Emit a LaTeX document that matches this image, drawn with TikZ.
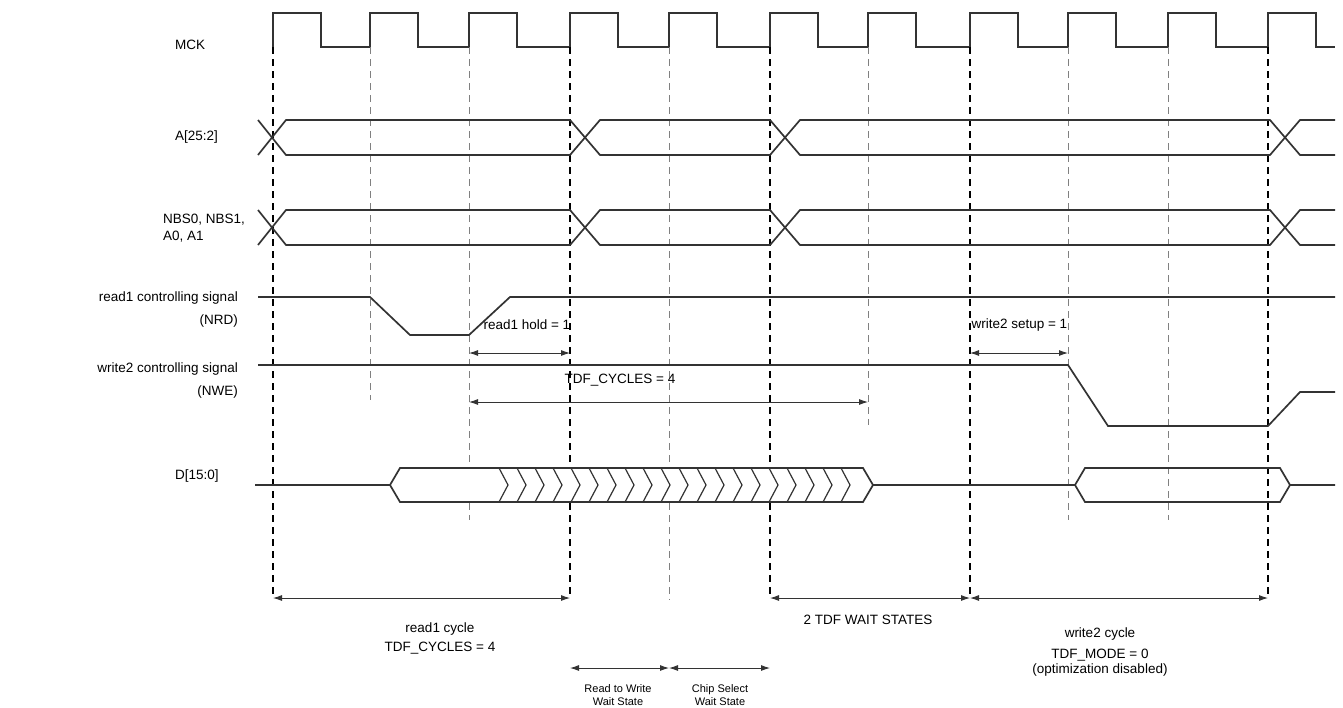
\documentclass[tikz,border=0pt]{standalone}
\usepackage{fontspec}
\setmainfont{Liberation Sans}
\usetikzlibrary{arrows.meta}

\begin{document}
\begin{tikzpicture}[
    x=1pt, y=-1pt,
    wave/.style={line width=1.7pt, black!80},
    major/.style={dashed, line width=1.6pt, dash pattern=on 7pt off 5pt},
    minor/.style={dashed, gray, line width=0.9pt, dash pattern=on 7pt off 5pt},
    dim/.style={{Latex[length=9pt,width=6pt]}-{Latex[length=9pt,width=6pt]}, line width=0.9pt, black!80},
    sig/.style={font=\fontsize{13.5}{15}\selectfont, inner sep=0pt},
    note/.style={font=\fontsize{13.5}{15}\selectfont, align=center},
    tiny/.style={font=\fontsize{11}{13}\selectfont, align=center, inner sep=1pt}
]
    \useasboundingbox (0,0) rectangle (1343,707);
    % rising edges of MCK
    \foreach \i/\x in {1/273,2/370,3/469,4/570,5/669,6/770,7/868,8/970,9/1068,10/1168,11/1268}
        \coordinate (e\i) at (\x,0);

    % signal names
    \node[sig, anchor=west] (mck) at (175,45) {MCK};
    \node[sig, anchor=west] (addr) at (175,137) {A[25:2]};
    \node[sig, anchor=west, align=left] (nbs) at (163,228) {NBS0, NBS1,\\[2pt]A0, A1};
    \node[sig, anchor=east, align=right] (nrd) at (238,310) {read1 controlling signal\\[8pt](NRD)};
    \node[sig, anchor=east, align=right] (nwe) at (238,380) {write2 controlling signal\\[8pt](NWE)};
    \node[sig, anchor=west] (data) at (175,476) {D[15:0]};

    % clock
    \draw[wave] (273,47) \foreach \x in {273,370,469,570,669,770,868,970,1068,1168,1268}
        { -- (\x,47) -- (\x,13) -- (\x+48,13) -- (\x+48,47) } -- (1335,47);

    % dashed cycle markers
    \foreach \i in {1,4,6,8,11} \draw[major] (e\i |- 0,47) -- (e\i |- 0,595);
    \draw[minor] (e2 |- 0,47) -- (e2 |- 0,400);
    \draw[minor] (e3 |- 0,47) -- (e3 |- 0,520);
    \draw[minor] (e5 |- 0,47) -- (e5 |- 0,600);
    \draw[minor] (e7 |- 0,47) -- (e7 |- 0,425);
    \draw[minor] (e9 |- 0,47) -- (e9 |- 0,520);
    \draw[minor] (e10 |- 0,47) -- (e10 |- 0,520);

    % address and byte select buses
    \foreach \t in {120,210} {
        \pgfmathsetmacro{\b}{\t+35}
        \draw[wave] (258,\t) -- (286,\b) -- (570,\b) -- (600,\t) -- (770,\t) -- (800,\b) -- (1270,\b) -- (1300,\t) -- (1335,\t);
        \draw[wave] (258,\b) -- (286,\t) -- (570,\t) -- (600,\b) -- (770,\b) -- (800,\t) -- (1270,\t) -- (1300,\b) -- (1335,\b);
    }

    % NRD and NWE
    \draw[wave] (258,297) -- (370,297) -- (410,335) -- (469,335) -- (510,297) -- (1335,297);
    \draw[wave] (258,365) -- (1068,365) -- (1108,426) -- (1268,426) -- (1300,392) -- (1335,392);

    % data bus
    \draw[wave] (255,485) -- (390,485);
    \draw[wave, fill=white] (390,485) -- (400,468) -- (863,468) -- (873,485) -- (863,502) -- (400,502) -- cycle;
    \foreach \x in {499,517,...,855} \draw[wave, line width=1.2pt] (\x,468) -- (\x+9,485) -- (\x,502);
    \draw[wave] (873,485) -- (1075,485) -- (1085,468) -- (1280,468) -- (1290,485) -- (1335,485);
    \draw[wave] (1075,485) -- (1085,502) -- (1280,502) -- (1290,485);

    % timing annotations
    \node[note, anchor=west] (holdtxt) at (480,325) {read1 hold = 1};
    \draw[dim] (e3 |- 0,353) -- (e4 |- 0,353);
    \node[note, anchor=west] (setuptxt) at (968,325) {write2 setup = 1};
    \draw[dim] (e8 |- 0,353) -- (e9 |- 0,353);
    \node[note] (tdftxt) at (620,380) {TDF\_CYCLES = 4};
    \draw[dim] (e3 |- 0,402) -- (e7 |- 0,402);

    \draw[dim] (e1 |- 0,598) -- (e4 |- 0,598);
    \node[note] (readcyc) at (440,638) {read1 cycle\\[4pt]TDF\_CYCLES = 4};
    \draw[dim] (e6 |- 0,598) -- (e8 |- 0,598);
    \node[note] (tdfwait) at (868,620) {2 TDF WAIT STATES};
    \draw[dim] (e8 |- 0,598) -- (e11 |- 0,598);
    \node[note] (writecyc) at (1100,652) {write2 cycle\\[6pt]TDF\_MODE = 0\\(optimization disabled)};

    \draw[dim] (e4 |- 0,668) -- (e5 |- 0,668);
    \node[tiny] (rtw) at (618,695) {Read to Write\\Wait State};
    \draw[dim] (e5 |- 0,668) -- (e6 |- 0,668);
    \node[tiny] (csw) at (720,695) {Chip Select\\Wait State};
\end{tikzpicture}
\end{document}
